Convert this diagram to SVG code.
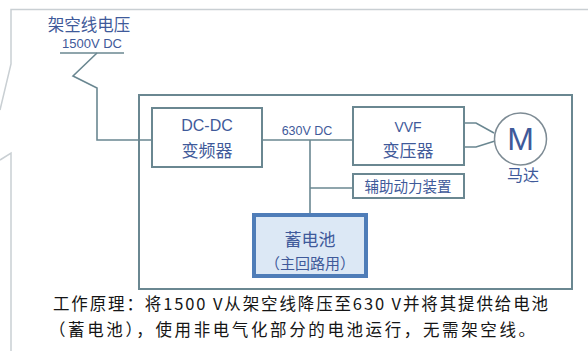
<svg xmlns="http://www.w3.org/2000/svg" width="588" height="351" viewBox="0 0 588 351">
<style>
.frame{fill:none;stroke:#c9cfd3;stroke-width:1.5}
.box{fill:#ffffff;stroke:#6a8791;stroke-width:2}
.wire{fill:none;stroke:#6a8791;stroke-width:1.6}
.lbl{font-family:"Liberation Sans","Noto Sans CJK SC",sans-serif;fill:#3f5a9a;text-anchor:middle}
.note{font-family:"Noto Sans CJK SC","Liberation Sans",sans-serif;fill:#151515;font-size:16.5px}
</style>
<rect width="588" height="351" fill="#ffffff"/>
<g id="frame">
<path class="frame" d="M588,9.5 H11 V64 L0,110"/>
<path class="frame" d="M0,160 L11,153 V351"/>
</g>
<g id="system">
<rect class="box" x="139" y="95" width="433" height="194"/>
</g>
<g id="connectors">
<path class="wire" d="M60,53 H124"/>
<path class="wire" d="M97,53 L73,76 L97,88 V140 H152"/>
<path class="wire" d="M262,140 H353"/>
<path class="wire" d="M310,140 V214"/>
<path class="wire" d="M310,188 H353"/>
<path class="wire" d="M464,123 H476 L494,133"/>
<path class="wire" d="M464,147 H476 L495,141"/>
</g>
<g id="overhead">
<text class="lbl" x="89" y="31" font-size="16.5">架空线电压</text>
<text class="lbl" x="92" y="48" font-size="13">1500V DC</text>
</g>
<g id="dcdc">
<rect class="box" x="152" y="108" width="110" height="59"/>
<text class="lbl" x="207" y="131" font-size="16">DC-DC</text>
<text class="lbl" x="207" y="157" font-size="17">变频器</text>
</g>
<g id="bus-label">
<text class="lbl" x="307" y="135" font-size="12.5">630V DC</text>
</g>
<g id="vvf">
<rect class="box" x="353" y="107" width="111" height="58"/>
<text class="lbl" x="408" y="132" font-size="14">VVF</text>
<text class="lbl" x="408" y="157" font-size="17">变压器</text>
</g>
<g id="aux">
<rect class="box" x="353" y="174" width="111" height="24"/>
<text class="lbl" x="408" y="192" font-size="14.5">辅助动力装置</text>
</g>
<g id="motor">
<circle cx="520.5" cy="139" r="26" fill="#ffffff" stroke="#7d8b94" stroke-width="1.5"/>
<text class="lbl" x="520.5" y="150" font-size="32">M</text>
<text class="lbl" x="523" y="181" font-size="16">马达</text>
</g>
<g id="battery">
<rect x="254" y="215" width="112" height="61" fill="#dce8f5" stroke="#4f7db8" stroke-width="4"/>
<text class="lbl" x="310" y="246" font-size="17">蓄电池</text>
<text class="lbl" x="310" y="269" font-size="15">（主回路用）</text>
</g>
<g id="notes">
<text class="note" x="53" y="310" textLength="495" lengthAdjust="spacing">工作原理：将1500 V从架空线降压至630 V并将其提供给电池</text>
<text class="note" x="49" y="336" textLength="486" lengthAdjust="spacing">（蓄电池），使用非电气化部分的电池运行，无需架空线。</text>
</g>
</svg>
